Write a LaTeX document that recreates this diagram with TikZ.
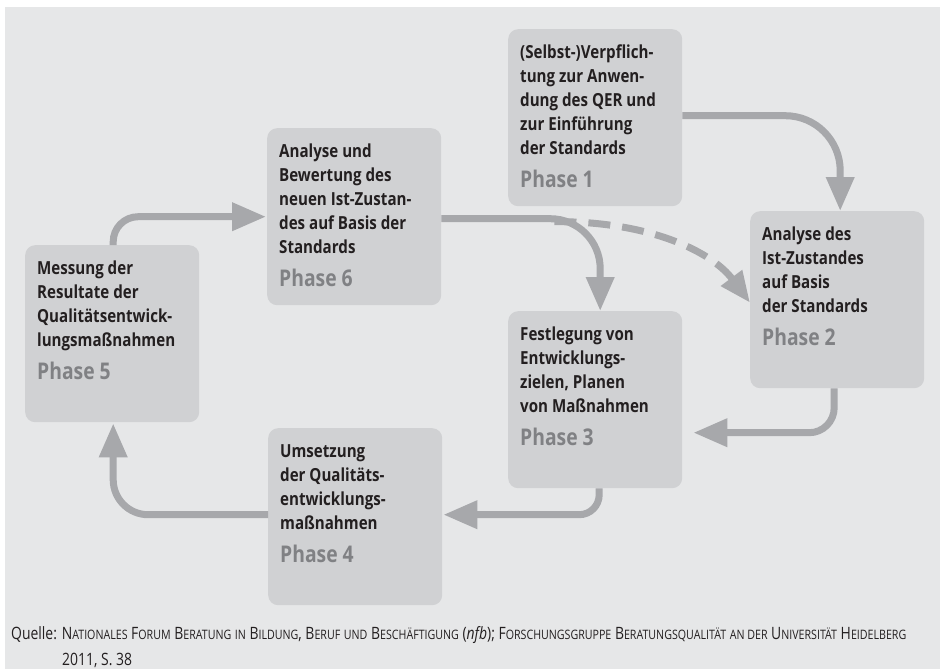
\documentclass[tikz,border=0pt]{standalone}
\usepackage{fontspec}
\usetikzlibrary{arrows.meta,calc}
\newfontfamily\boxfont[FakeStretch=0.84]{Open Sans}
\newfontfamily\notefont[FakeStretch=0.82]{Open Sans}
\definecolor{bggrey}{HTML}{E6E7E8}
\definecolor{boxgrey}{HTML}{D0D1D3}
\definecolor{arrgrey}{HTML}{A7A8AB}
\definecolor{phgrey}{HTML}{808184}
\definecolor{txtblack}{HTML}{231F20}
\newcommand\phbox[2]{\parbox[t][177pt][t]{174pt}{\leftskip=12pt\rightskip=0pt plus 1fil\parindent=0pt\boxfont\bfseries\fontsize{18}{24}\selectfont\color{txtblack}\rule{0pt}{29pt}#1\\[9pt]{\color{phgrey}\fontsize{23}{24}\selectfont #2}}}
\newcommand\fsc[2]{#1{\fontsize{13}{14}\selectfont #2}}
\newcommand\smc[1]{{\fontsize{13}{14}\selectfont #1}}
\tikzset{
  pbox/.style={fill=boxgrey, rounded corners=10pt, inner sep=0pt, anchor=north west},
  flow/.style={draw=arrgrey, line width=7pt, -{Triangle[width=27pt,length=34pt]}},
  dflow/.style={draw=arrgrey, line width=7pt, dash pattern=on 22pt off 12pt, -{Triangle[width=25pt,length=31pt]}},
  note/.style={inner sep=0pt, anchor=base west, font=\notefont\fontsize{17}{20}\selectfont, text=txtblack}
}
\begin{document}
\begin{tikzpicture}[x=1pt,y=-1pt]
\useasboundingbox (0,0) rectangle (940,669);
\fill[bggrey] (5,7) rectangle (940,669);
\node[pbox] (p1) at (508,29) {\phbox{(Selbst-)Verpflich-\\tung zur Anwen-\\dung des QER und\\zur Einführung\\der Standards}{Phase 1}};
\node[pbox] (p6) at (267,128) {\phbox{Analyse und\\Bewertung des\\neuen Ist-Zustan-\\des auf Basis der\\Standards}{Phase 6}};
\node[pbox] (p2) at (750,211) {\phbox{Analyse des\\Ist-Zustandes\\auf Basis\\der Standards}{Phase 2}};
\node[pbox] (p3) at (508,311) {\phbox{Festlegung von\\Entwicklungs-\\zielen, Planen\\von Maßnahmen}{Phase 3}};
\node[pbox] (p5) at (25,245) {\phbox{Messung der\\Resultate der\\Qualitätsentwick-\\lungsmaßnahmen}{Phase 5}};
\node[pbox] (p4) at (268,428) {\phbox{Umsetzung\\der Qualitäts-\\entwicklungs-\\maßnahmen}{Phase 4}};
% connectors
\draw[flow, rounded corners=55pt] ($(p1.east)+(0,-2)$) -| ($(p2.north)+(3,0)$);
\draw[flow, rounded corners=50pt] ($(p6.east)+(0,2)$) -| ($(p3.north)+(5,0)$);
\draw[dflow] ($(p6.east)+(113,5)$) .. controls (650,221) and (712,252) .. ($(p2.west)+(0,3)$);
\draw[flow, rounded corners=25pt] ($(p2.south)+(-3,0)$) |- ($(p3.east)+(11,33)$);
\draw[flow, rounded corners=20pt] ($(p3.south)+(4,0)$) |- ($(p4.east)+(1,-2)$);
\draw[flow, rounded corners=35pt] ($(p4.west)+(0,-2)$) -| ($(p5.south)+(1,1)$);
\draw[flow, rounded corners=25pt] ($(p5.north)+(1,0)$) |- ($(p6.west)+(-1,0)$);
% source note
\node[note] (q1) at (11,639) {Quelle: \fsc{N}{ATIONALES} \fsc{F}{ORUM} \fsc{B}{ERATUNG} \smc{IN} \fsc{B}{ILDUNG}, \fsc{B}{ERUF} \smc{UND} \fsc{B}{ESCHÄFTIGUNG} (\textit{nfb}); \fsc{F}{ORSCHUNGSGRUPPE} \fsc{B}{ERATUNGSQUALITÄT} \smc{AN DER} \fsc{U}{NIVERSITÄT} \fsc{H}{EIDELBERG}};
\node[note] (q2) at (62,665) {2011, S. 38};
\end{tikzpicture}
\end{document}
